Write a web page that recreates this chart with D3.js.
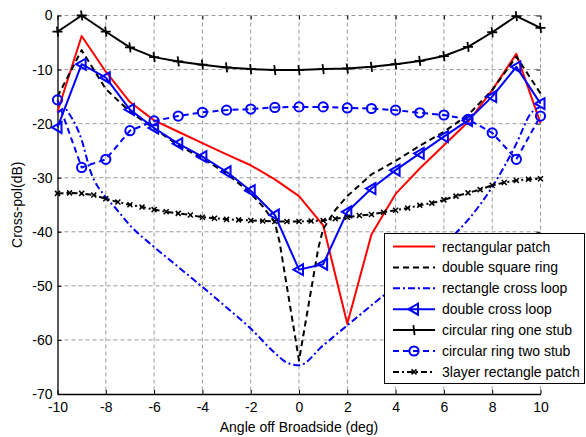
<!DOCTYPE html>
<html><head><meta charset="utf-8">
<script src="https://cdn.jsdelivr.net/npm/d3@7"></script>
<style>html,body{margin:0;padding:0;background:#fff;} svg{display:block;}</style>
</head><body>
<svg id="c" width="586" height="437"></svg>
<script>
// ---------- data ----------
const xTicks = [-10,-8,-6,-4,-2,0,2,4,6,8,10];
const yTicks = [-70,-60,-50,-40,-30,-20,-10,0];
const angles = [-10,-9,-8,-7,-6,-5,-4,-3,-2,-1,0,1,2,3,4,5,6,7,8,9,10];

const rectPatch = [-17.8,-3.8,-10.4,-16.0,-19.4,-21.5,-23.6,-25.7,-27.7,-30.3,-33.4,-38.8,-57.0,-40.5,-33.0,-28.3,-24.0,-19.7,-13.8,-7.1,-19.9];

const dsrX = [-10,-9,-8,-7,-6,-5,-4,-3,-2,-1.5,-1,-0.8,0,0.8,1,1.5,2,3,4,5,6,7,8,9,10];
const doubleSquareRing = [-15.0,-6.4,-13.6,-17.8,-20.9,-24.0,-26.4,-29.2,-32.9,-35.3,-38.3,-42.0,-63.8,-43.0,-39.5,-36.0,-33.4,-29.4,-26.9,-24.1,-21.5,-18.4,-13.8,-7.6,-14.4];

const rclX = [-10,-9.7,-9.5,-9,-8.65,-8,-7.6,-7,-6,-5,-4,-3,-2,-1,-0.5,0,1,2,3,4,5,6,7,8,9,9.6,10];
const rectCrossLoop = [-18.0,-17.2,-18.3,-23.0,-28.6,-33.6,-35.6,-38.8,-42.8,-46.5,-50.2,-54.0,-57.9,-62.4,-64.2,-64.7,-61.0,-57.3,-53.6,-50.0,-46.2,-42.3,-37.8,-31.7,-23.7,-18.1,-16.9];

const doubleCrossLoop = [-20.7,-9.0,-11.5,-17.4,-20.8,-23.7,-26.1,-28.9,-32.4,-36.9,-47.0,-46.0,-36.3,-32.0,-28.6,-25.5,-22.4,-19.4,-15.0,-9.5,-16.3];

const ringOneStub = [-3.0,0.0,-3.0,-5.9,-7.7,-8.5,-9.1,-9.6,-9.9,-10.1,-10.1,-9.9,-9.8,-9.5,-9.0,-8.4,-7.5,-5.8,-3.1,-0.1,-2.3];

const ringTwoStub = [-15.6,-28.1,-26.6,-21.3,-19.5,-18.6,-17.9,-17.5,-17.3,-17.0,-16.9,-16.9,-17.1,-17.2,-17.5,-18.0,-18.4,-19.2,-21.7,-26.6,-18.6];

const halfAngles = [-10,-9.5,-9,-8.5,-8,-7.5,-7,-6.5,-6,-5.5,-5,-4.5,-4,-3.5,-3,-2.5,-2,-1.5,-1,-0.5,0,0.5,1,1.5,2,2.5,3,3.5,4,4.5,5,5.5,6,6.5,7,7.5,8,8.5,9,9.5,10];
const threeLayer = [-32.9,-32.8,-32.9,-33.2,-33.9,-34.5,-35.0,-35.4,-35.9,-36.3,-36.6,-36.9,-37.3,-37.5,-37.7,-37.8,-37.9,-38.0,-38.1,-38.1,-38.1,-38.0,-37.9,-37.6,-37.3,-37.0,-36.8,-36.4,-36.0,-35.6,-35.1,-34.7,-34.1,-33.4,-32.8,-32.2,-31.4,-30.9,-30.5,-30.3,-30.2];

const seriesNames = ["rectangular patch","double square ring","rectangle cross loop","double cross loop","circular ring one stub","circular ring two stub","3layer rectangle patch"];

// ---------- styles ----------
const styles = [
  {xs: angles, ys: rectPatch, color:"#ff0000", dash:null, marker:null, curve:d3.curveLinear},
  {xs: dsrX, ys: doubleSquareRing, color:"#000000", dash:"6,4", marker:null, curve:d3.curveLinear},
  {xs: rclX, ys: rectCrossLoop, color:"#0000ff", dash:"7,3,2,3", marker:null, curve:d3.curveMonotoneX},
  {xs: angles, ys: doubleCrossLoop, color:"#0000ff", dash:null, marker:"tri", curve:d3.curveLinear},
  {xs: angles, ys: ringOneStub, color:"#000000", dash:null, marker:"plus", curve:d3.curveLinear},
  {xs: angles, ys: ringTwoStub, color:"#0000ff", dash:"6,4", marker:"circle", curve:d3.curveLinear},
  {xs: halfAngles, ys: threeLayer, color:"#000000", dash:"6,3,2,3", marker:"x", curve:d3.curveLinear}
];

const FONT = "'Liberation Sans', Arial, Helvetica, sans-serif";
const svg = d3.select("#c");
const L = 57.5, R = 540.5, T = 15.5, B = 394;
const x = d3.scaleLinear().domain([-10,10]).range([L,R]);
const y = d3.scaleLinear().domain([-70,0]).range([B,T]);

// grid
const grid = svg.append("g").attr("stroke","#9a9a9a").attr("stroke-width",1).attr("stroke-dasharray","4,3");
xTicks.filter(d=>d>-10).forEach(d=>{
  grid.append("line").attr("x1",x(d)).attr("x2",x(d)).attr("y1",T).attr("y2",B);
});
yTicks.filter(d=>d>-70).forEach(d=>{
  grid.append("line").attr("x1",L).attr("x2",R).attr("y1",y(d)).attr("y2",y(d));
});

// axes
const fmt = d => String(d);
const ax = svg.append("g").attr("transform",`translate(0,${B})`)
  .call(d3.axisBottom(x).tickValues(xTicks).tickFormat(fmt).tickSizeInner(-4).tickSizeOuter(0).tickPadding(8));
const ay = svg.append("g").attr("transform",`translate(${L},0)`)
  .call(d3.axisLeft(y).tickValues(yTicks).tickFormat(fmt).tickSizeInner(-4).tickSizeOuter(0).tickPadding(5));
const at = svg.append("g").attr("transform",`translate(0,${T})`)
  .call(d3.axisTop(x).tickValues(xTicks).tickFormat("").tickSizeInner(-4).tickSizeOuter(0));
const ar = svg.append("g").attr("transform",`translate(${R},0)`)
  .call(d3.axisRight(y).tickValues(yTicks).tickFormat("").tickSizeInner(-4).tickSizeOuter(0));
at.select(".domain").remove(); ar.select(".domain").remove();
[ax,ay,at,ar].forEach(g=>{
  g.selectAll("text").attr("font-family",FONT).attr("font-size",14).attr("fill","#000");
  g.selectAll("line").attr("stroke","#000").attr("stroke-width",1);
  g.select(".domain").attr("stroke","#000").attr("stroke-width",1.3);
});

// markers
function drawMarker(g, type, cx, cy, color){
  if(type==="tri"){
    g.append("path").attr("d",`M${cx-5.5},${cy} L${cx+4},${cy-5.5} L${cx+4},${cy+5.5} Z`)
      .attr("fill","none").attr("stroke",color).attr("stroke-width",2).attr("stroke-linejoin","miter");
  } else if(type==="circle"){
    g.append("circle").attr("cx",cx).attr("cy",cy).attr("r",4.6)
      .attr("fill","none").attr("stroke",color).attr("stroke-width",2);
  } else if(type==="plus"){
    g.append("path").attr("d",`M${cx-5},${cy} L${cx+5},${cy} M${cx-0.6},${cy-5} L${cx+0.6},${cy+5}`)
      .attr("fill","none").attr("stroke",color).attr("stroke-width",1.8);
  } else if(type==="x"){
    g.append("path").attr("d",`M${cx-2.5},${cy-2.5} L${cx+2.5},${cy+2.5} M${cx-2.5},${cy+2.5} L${cx+2.5},${cy-2.5}`)
      .attr("fill","none").attr("stroke",color).attr("stroke-width",1.5);
  }
}

// series
const plot = svg.append("g");
styles.forEach(s=>{
  const pts = s.xs.map((v,i)=>[v, s.ys[i]]);
  const line = d3.line().x(d=>x(d[0])).y(d=>y(d[1])).curve(s.curve);
  plot.append("path").attr("d",line(pts)).attr("fill","none").attr("stroke",s.color)
    .attr("stroke-width",2).attr("stroke-dasharray",s.dash).attr("stroke-linejoin","round");
  if(s.marker){
    const mg = plot.append("g");
    pts.forEach(p=>drawMarker(mg, s.marker, x(p[0]), y(p[1]), s.color));
  }
});

// axis labels
svg.append("text").attr("x",(L+R)/2).attr("y",432).attr("text-anchor","middle")
  .attr("font-family",FONT).attr("font-size",14).text("Angle off Broadside (deg)");
svg.append("text").attr("transform",`translate(22,${(T+B)/2}) rotate(-90)`).attr("text-anchor","middle")
  .attr("font-family",FONT).attr("font-size",14).text("Cross-pol(dB)");

// legend
const lg = svg.append("g");
lg.append("rect").attr("x",384.5).attr("y",233.5).attr("width",200).attr("height",150)
  .attr("fill","#fff").attr("stroke","#000").attr("stroke-width",1);
seriesNames.forEach((name,i)=>{
  const s = styles[i];
  const ly = 246.5 + i*20.9;
  lg.append("line").attr("x1",393).attr("x2",435).attr("y1",ly).attr("y2",ly)
    .attr("stroke",s.color).attr("stroke-width",2).attr("stroke-dasharray",s.dash);
  if(s.marker) drawMarker(lg, s.marker, 414, ly, s.color);
  lg.append("text").attr("x",442).attr("y",ly+5).attr("font-family",FONT).attr("font-size",14).text(name);
});
</script>
</body></html>
